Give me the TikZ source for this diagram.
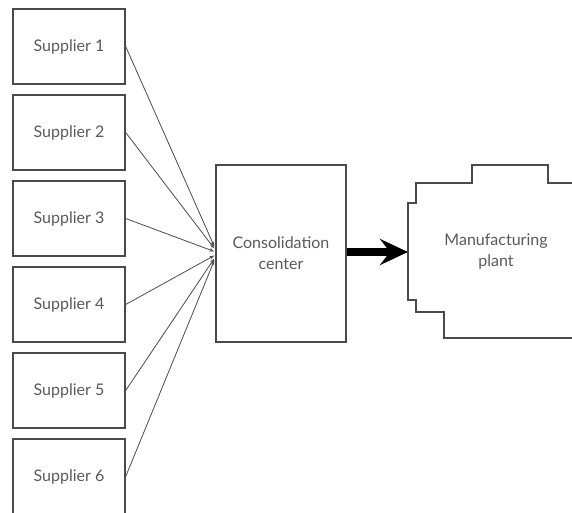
\documentclass[tikz,border=0pt]{standalone}
\usepackage{fontspec}
\setmainfont{Lato}
\usetikzlibrary{arrows.meta,calc}
\definecolor{edge}{HTML}{4A4A4A}
\definecolor{txt}{HTML}{5A5A5A}
\begin{document}
\begin{tikzpicture}[x=1pt,y=-1pt,
  supbox/.style={draw=edge,line width=1.4pt,fill=white,minimum width=112pt,minimum height=75pt,inner sep=0pt,
    font=\fontsize{16}{19}\selectfont,text=txt},
  feed/.style={draw=edge,line width=0.8pt,-{Stealth[length=5pt,width=3.5pt]}},
  big/.style={draw=black,line width=8pt,-{Stealth[length=28pt,width=26pt,inset=10pt]}},
  lbl/.style={font=\fontsize{16}{21}\selectfont,text=txt,align=center}]
\useasboundingbox (0,0) rectangle (572,513);
\clip (0,0) rectangle (572,513);
\fill[white] (0,0) rectangle (572,513);
\foreach \i in {1,...,6}{
  \node[supbox] (s\i) at (69,{46.5+86*(\i-1)}) {Supplier \i};
}
\node[supbox,minimum width=130pt,minimum height=177pt,lbl] (cc) at (281,253.5) {Consolidation\\center};
\foreach \i/\dy in {1/-7,2/-5,3/-2,4/2,5/5,6/7}{
  \coordinate (e\i) at ($(cc.west)+(-1,\dy)$);
  \draw[feed] (s\i.east) -- (e\i);
}
% manufacturing plant outline
\draw[edge,line width=1.4pt]
  (576,183) -- (548,183) -- (548,165) -- (472,165) -- (472,183) -- (416,183) -- (416,203)
  -- (408,203) -- (408,300) -- (416,300) -- (416,312) -- (444,312) -- (444,338) -- (576,338);
\node[lbl] (mp) at (496,252) {Manufacturing\\plant};
\coordinate (pin) at (408,252);
\draw[big] (cc.east |- pin) -- (pin);
\end{tikzpicture}
\end{document}
